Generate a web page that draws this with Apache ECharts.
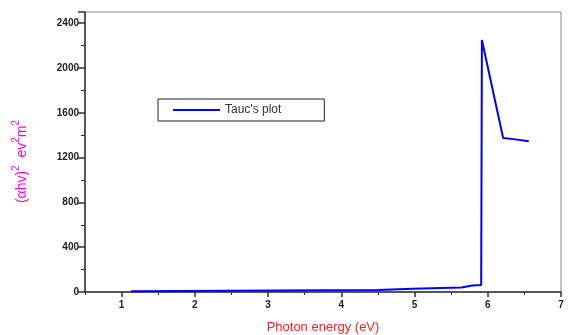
<!DOCTYPE html>
<html>
<head>
<meta charset="utf-8">
<script src="https://cdn.jsdelivr.net/npm/echarts@6/dist/echarts.min.js"></script>
<style>
  html, body { margin: 0; padding: 0; background: #fff; }
  #main { width: 572px; height: 335px; }
</style>
</head>
<body>
<div id="main"></div>
<script>
// photon energy (eV) and (αhν)^2
var energy = [1.13, 1.77, 1.78, 4.50, 4.51, 4.97, 4.98, 5.64, 5.66, 5.79, 5.91, 5.92, 6.21, 6.35, 6.56];
var tauc   = [6,    8,    16,   18,   26,   28,   36,   40,   46,   58,   62,   2250, 1375, 1365, 1345];
var xTicks = [1, 2, 3, 4, 5, 6, 7];
var xMinorTicks = [0.5, 1.5, 2.5, 3.5, 4.5, 5.5, 6.5];
var yTicks = [0, 400, 800, 1200, 1600, 2000, 2400];

var points = energy.map(function (e, i) { return [e, tauc[i]]; });

var myChart = echarts.init(document.getElementById("main"));
var font = "Arial, 'Liberation Sans', sans-serif";
var tickLabel = {
  fontFamily: font,
  fontSize: 10,
  fontWeight: "bold",
  color: "#222"
};
var option = {
  animation: false,
  grid: {
    left: 85,
    right: 11,
    top: 12,
    bottom: 43,
    outerBoundsMode: "none",
    containLabel: false,
    show: true,
    borderColor: "#888",
    borderWidth: 1
  },
  legend: {
    left: 158,
    top: 99,
    padding: [5, 43, 5, 15],
    borderColor: "#222",
    borderWidth: 1,
    icon: "rect",
    itemWidth: 47,
    itemHeight: 2,
    itemGap: 3,
    textStyle: {
      fontFamily: font,
      fontSize: 12,
      color: "#333"
    },
    data: ["Tauc's plot"]
  },
  xAxis: [{
    type: "value",
    min: 0.5,
    max: 7,
    name: "Photon energy (eV)",
    nameLocation: "middle",
    nameGap: 29,
    nameTextStyle: {
      fontFamily: font,
      fontSize: 13,
      color: "#ff2020"
    },
    axisLine: { show: true, lineStyle: { color: "#333", width: 1.5 } },
    axisTick: { show: true, length: 5, customValues: xTicks, lineStyle: { color: "#333", width: 1.5 } },
    splitLine: { show: false },
    axisLabel: Object.assign({ margin: 8, customValues: xTicks }, tickLabel)
  }, {
    type: "value",
    min: 0.5,
    max: 7,
    position: "bottom",
    axisLine: { show: false },
    axisTick: { show: true, length: 3, customValues: xMinorTicks, lineStyle: { color: "#333" } },
    splitLine: { show: false },
    axisLabel: { show: false }
  }],
  yAxis: {
    type: "value",
    min: 0,
    max: 2500,
    interval: 400,
    axisLine: { show: true, lineStyle: { color: "#333", width: 1.5 } },
    axisTick: { show: true, length: 7, lineStyle: { color: "#333", width: 1.5 } },
    minorTick: { show: true, splitNumber: 2, length: 4, lineStyle: { color: "#333" } },
    splitLine: { show: false },
    axisLabel: Object.assign({
      margin: 6,
      formatter: function (v) { return yTicks.indexOf(v) >= 0 ? String(v) : ""; }
    }, tickLabel)
  },
  graphic: [{
    type: "text",
    left: 11,
    top: 120,
    rotation: Math.PI / 2,
    style: {
      text: "{b|(αhv)}{s|2}{b|  ev}{s|2}{b|m}{s|2}",
      rich: {
        b: { fontFamily: font, fontSize: 14, fill: "#ff00ff", verticalAlign: "bottom" },
        s: { fontFamily: font, fontSize: 10, fill: "#ff00ff", verticalAlign: "top", padding: [0, 0, 8, 0] }
      }
    }
  }],
  series: [{
    name: "Tauc's plot",
    type: "line",
    data: points,
    showSymbol: false,
    symbol: "none",
    lineStyle: { color: "#0000ff", width: 2 },
    itemStyle: { color: "#0000ff" }
  }]
};
myChart.setOption(option);
</script>
</body>
</html>
